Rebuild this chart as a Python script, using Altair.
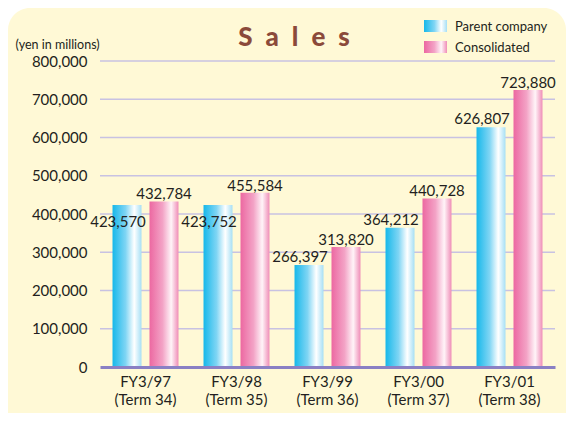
import altair as alt
import pandas as pd

# ---- data ----
periods = ["FY3/97\n(Term 34)", "FY3/98\n(Term 35)", "FY3/99\n(Term 36)",
           "FY3/00\n(Term 37)", "FY3/01\n(Term 38)"]
parent = [423570, 423752, 266397, 364212, 626807]
consolidated = [432784, 455584, 313820, 440728, 723880]
series = ["Parent company", "Consolidated"]
y_ticks = [0, 100000, 200000, 300000, 400000, 500000, 600000, 700000, 800000]
title_text = "S\u2002a\u2002l\u2002e\u2002s"
y_title = "(yen in millions)"

rows = []
for p, a, b in zip(periods, parent, consolidated):
    rows.append({"period": p, "series": series[0], "value": a, "other": b})
    rows.append({"period": p, "series": series[1], "value": b, "other": a})
df = pd.DataFrame(rows)

FONT = "Lato"
TXT = "#231F20"
BG = "#FFF9D6"

grad_parent = alt.LinearGradient(
    gradient="linear", x1=0, x2=1, y1=0, y2=0,
    stops=[alt.GradientStop(offset=0, color="#16B8EA"),
           alt.GradientStop(offset=0.45, color="#7FD5F4"),
           alt.GradientStop(offset=0.75, color="#FFFFFF"),
           alt.GradientStop(offset=1, color="#A6DFF5")])
grad_cons = alt.LinearGradient(
    gradient="linear", x1=0, x2=1, y1=0, y2=0,
    stops=[alt.GradientStop(offset=0, color="#EC68A1"),
           alt.GradientStop(offset=0.45, color="#F3A3C6"),
           alt.GradientStop(offset=0.75, color="#FFF4F8"),
           alt.GradientStop(offset=1, color="#EF8DB7")])

x_enc = alt.X("period:N", sort=periods,
              scale=alt.Scale(paddingInner=0.275, paddingOuter=0.1375),
              axis=alt.Axis(title=None, labelExpr="split(datum.label, '\\n')",
                            labelAngle=0, labelFontSize=15, labelLineHeight=18,
                            labelPadding=7, labelColor=TXT, labelFont=FONT,
                            ticks=False, grid=False, domainColor="#8A80C4",
                            domainWidth=3, zindex=1))
xo_enc = alt.XOffset("series:N", sort=series,
                     scale=alt.Scale(domain=series, paddingInner=0.216, paddingOuter=0))
y_scale = alt.Scale(domain=[0, 800000])
y_enc = alt.Y("value:Q", scale=y_scale,
              axis=alt.Axis(values=y_ticks, format=",d", title=y_title,
                            titleAngle=0, titleAlign="left", titleBaseline="alphabetic",
                            titleX=-85, titleY=-13, titleFontSize=12.5,
                            titleFontWeight="normal", titleFont=FONT, titleColor=TXT,
                            labelFontSize=15, labelPadding=13, labelColor=TXT,
                            labelFont=FONT, ticks=False, domain=False, grid=False,
                            zindex=1))

base = alt.Chart(df).encode(x=x_enc, xOffset=xo_enc, y=y_enc)

panel = alt.Chart(pd.DataFrame({"k": [0]})).mark_rect(
    color=BG, cornerRadius=22).encode(
    x=alt.value(-92), x2=alt.value(466), y=alt.value(-53), y2=alt.value(380))

grid = alt.Chart(pd.DataFrame({"value": y_ticks[1:]})).mark_rule(
    color="#C8C2E2", strokeWidth=1.5).encode(
    y=y_enc, x=alt.value(0), x2=alt.value(455))

bars_p = base.mark_bar(color=grad_parent).transform_filter(
    alt.datum.series == series[0])
bars_c = base.mark_bar(color=grad_cons).transform_filter(
    alt.datum.series == series[1])

txt_kw = dict(fontSize=15, font=FONT, color=TXT, baseline="alphabetic")
lab_c = base.mark_text(dy=-2, **txt_kw).encode(
    text=alt.Text("value:Q", format=",d")).transform_filter(
    alt.datum.series == series[1])
lab_p_above = base.mark_text(dx=-9, dy=-3, **txt_kw).encode(
    text=alt.Text("value:Q", format=",d")).transform_filter(
    (alt.datum.series == series[0]) & (alt.datum.other - alt.datum.value >= 40000))
lab_p_inside = base.mark_text(dx=-9, dy=22, **txt_kw).encode(
    text=alt.Text("value:Q", format=",d")).transform_filter(
    (alt.datum.series == series[0]) & (alt.datum.other - alt.datum.value < 40000))

title = alt.Chart(pd.DataFrame({"s": [title_text]})).mark_text(
    fontSize=26, font=FONT, fontWeight=900, color="#8B4A3A",
    align="center", baseline="alphabetic").encode(
    x=alt.value(194), y=alt.value(-15), text="s:N")

leg_p = alt.Chart(pd.DataFrame({"s": [series[0]]})).mark_rect(color=grad_parent).encode(
    x=alt.value(324), x2=alt.value(347), y=alt.value(-41), y2=alt.value(-29))
leg_c = alt.Chart(pd.DataFrame({"s": [series[1]]})).mark_rect(color=grad_cons).encode(
    x=alt.value(324), x2=alt.value(347), y=alt.value(-20), y2=alt.value(-8))
leg_tp = alt.Chart(pd.DataFrame({"s": [series[0]]})).mark_text(
    align="left", fontSize=13, font=FONT, color=TXT, baseline="alphabetic").encode(
    x=alt.value(355), y=alt.value(-30), text="s:N")
leg_tc = alt.Chart(pd.DataFrame({"s": [series[1]]})).mark_text(
    align="left", fontSize=13, font=FONT, color=TXT, baseline="alphabetic").encode(
    x=alt.value(355), y=alt.value(-9), text="s:N")

chart = alt.layer(
    panel, grid, bars_p, bars_c, lab_c, lab_p_above, lab_p_inside,
    title, leg_p, leg_c, leg_tp, leg_tc
).properties(
    width=455, height=306,
    padding={"left": 92, "top": 53, "right": 11, "bottom": 46},
    autosize="none",
    background="white",
).configure_view(stroke=None)

chart.save("out.html", embed_options={"renderer": "svg", "actions": False})
